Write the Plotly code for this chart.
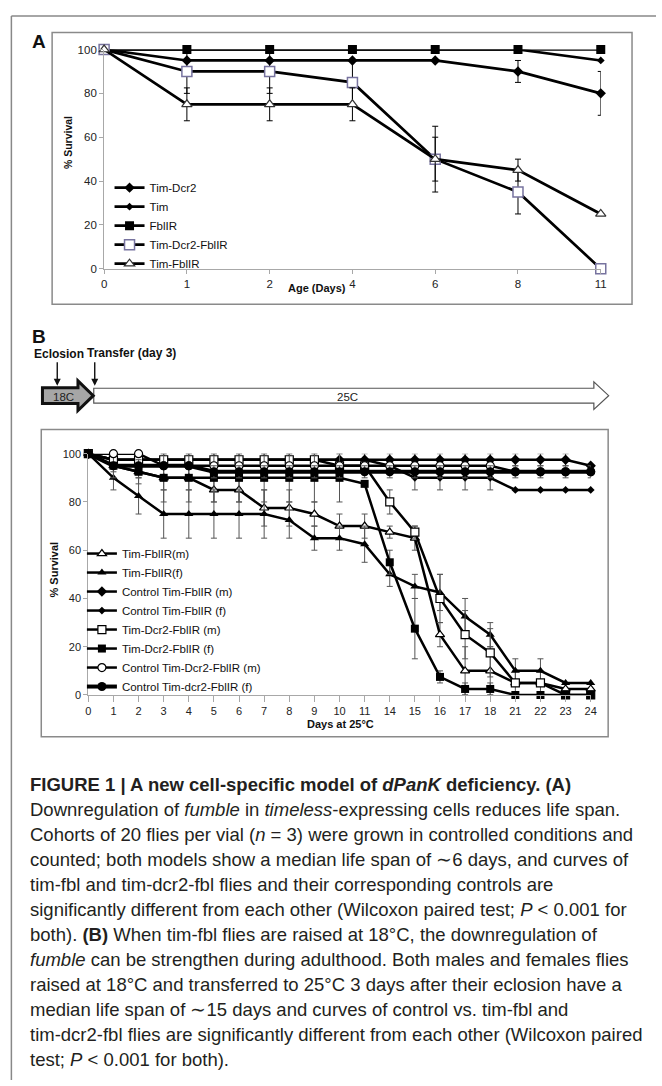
import plotly.graph_objects as go

W, H = 662, 1086

# ---------------- Panel A data ----------------
a_days = ["0", "1", "2", "4", "6", "8", "11"]
a_yticks = [0, 20, 40, 60, 80, 100]
a_tim_dcr2 = [100, 95, 95, 95, 95, 90, 80]
a_tim_dcr2_err = [0, 0, 0, 0, 0, 5, 10]
a_tim = [100, 100, 100, 100, 100, 100, 95]
a_fbl = [100, 100, 100, 100, 100, 100, 100]
a_tim_dcr2_fbl = [100, 90, 90, 85, 50, 35, 0]
a_tim_dcr2_fbl_err = [0, 10, 10, 10, 10, 10, 0]
a_tim_fbl = [100, 75, 75, 75, 50, 45, 25]
a_tim_fbl_err = [0, 7.5, 7.5, 7.5, 15, 5, 0]

# ---------------- Panel B data ----------------
b_days = ["0", "1", "2", "3", "4", "5", "6", "7", "8", "9", "10", "11",
          "14", "15", "16", "17", "18", "21", "22", "23", "24"]
b_yticks = [0, 20, 40, 60, 80, 100]
b_tim_fbl_m = [100, 95, 92.5, 90, 90, 85, 85, 77.5, 77.5, 75, 70, 70,
               67.5, 65, 25, 10, 10, 5, 5, 2.5, 2.5]
b_tim_fbl_m_err = [0, 2.5, 2.5, 5, 5, 5, 5, 7.5, 7.5, 5, 5, 5,
                   2.5, 5, 5, 10, 10, 5, 5, 2.5, 2.5]
b_tim_fbl_f = [100, 90, 82.5, 75, 75, 75, 75, 75, 72.5, 65, 65, 62.5,
               50, 45, 42.5, 32.5, 25, 10, 10, 5, 5]
b_tim_fbl_f_err = [0, 5, 7.5, 10, 10, 10, 10, 10, 7.5, 5, 5, 7.5,
                   5, 5, 7.5, 7.5, 5, 5, 5, 0, 0]
b_ctrl_fbl_m = [100, 97.5, 97.5, 97.5, 97.5, 97.5, 97.5, 97.5, 97.5, 97.5, 97.5, 97.5,
                97.5, 97.5, 97.5, 97.5, 97.5, 97.5, 97.5, 97.5, 95]
b_ctrl_fbl_m_err = [0, 2.5, 2.5, 2.5, 2.5, 2.5, 2.5, 2.5, 2.5, 2.5, 2.5, 2.5,
                    2.5, 2.5, 2.5, 2.5, 2.5, 2.5, 2.5, 2.5, 0]
b_ctrl_fbl_f = [100, 97.5, 97.5, 97.5, 97.5, 97.5, 97.5, 97.5, 97.5, 97.5, 97.5, 97.5,
                95, 90, 90, 90, 90, 85, 85, 85, 85]
b_ctrl_fbl_f_err = [0, 0, 0, 0, 0, 0, 0, 0, 0, 0, 0, 0,
                    0, 5, 5, 5, 5, 0, 0, 0, 0]
b_dcr2_fbl_m = [100, 97.5, 97.5, 97.5, 97.5, 97.5, 97.5, 97.5, 97.5, 97.5, 95, 95,
                80, 67.5, 40, 25, 17.5, 5, 5, 0, 0]
b_dcr2_fbl_m_err = [0, 0, 0, 0, 0, 0, 0, 0, 0, 0, 0, 0,
                    5, 2.5, 10, 10, 10, 0, 0, 0, 0]
b_dcr2_fbl_f = [100, 95, 92.5, 90, 90, 90, 90, 90, 90, 90, 90, 87.5,
                55, 27.5, 7.5, 2.5, 2.5, 0, 0, 0, 0]
b_dcr2_fbl_f_err = [0, 5, 5, 10, 10, 10, 10, 10, 10, 10, 10, 0,
                    5, 12.5, 2.5, 2.5, 2.5, 0, 0, 0, 0]
b_ctrl_dcr2_m = [100, 100, 100, 95, 95, 95, 95, 95, 95, 95, 95, 95,
                 95, 95, 95, 95, 95, 92.5, 92.5, 92.5, 92.5]
b_ctrl_dcr2_f = [100, 95, 95, 95, 95, 92.5, 92.5, 92.5, 92.5, 92.5, 92.5, 92.5,
                 92.5, 92.5, 92.5, 92.5, 92.5, 92.5, 92.5, 92.5, 92.5]
b_ctrl_dcr2_f_err = [0, 0, 0, 0, 0, 2.5, 2.5, 2.5, 2.5, 2.5, 2.5, 2.5,
                     2.5, 2.5, 2.5, 2.5, 2.5, 2.5, 2.5, 2.5, 2.5]

caption_lines = [
    "<b>FIGURE 1 | A new cell-specific model of <i>dPanK</i> deficiency. (A)</b>",
    "Downregulation of <i>fumble</i> in <i>timeless</i>-expressing cells reduces life span.",
    "Cohorts of 20 flies per vial (<i>n</i> = 3) were grown in controlled conditions and",
    "counted; both models show a median life span of ∼6 days, and curves of",
    "tim-fbl and tim-dcr2-fbl flies and their corresponding controls are",
    "significantly different from each other (Wilcoxon paired test; <i>P</i> &lt; 0.001 for",
    "both). <b>(B)</b> When tim-fbl flies are raised at 18°C, the downregulation of",
    "<i>fumble</i> can be strengthen during adulthood. Both males and females flies",
    "raised at 18°C and transferred to 25°C 3 days after their eclosion have a",
    "median life span of ∼15 days and curves of control vs. tim-fbl and",
    "tim-dcr2-fbl flies are significantly different from each other (Wilcoxon paired",
    "test; <i>P</i> &lt; 0.001 for both).",
]

FONT = "Liberation Sans, Arial, sans-serif"


def px(x):
    return x / W


def py(y):
    return 1 - y / H


def errs(v):
    return [e if e else None for e in v]


fig = go.Figure()

# ---------- Panel A traces ----------
a_specs = [
    ("Tim-Dcr2", a_tim_dcr2, a_tim_dcr2_err, dict(symbol="diamond", size=8, color="black")),
    ("Tim", a_tim, None, dict(symbol="diamond", size=6, color="black")),
    ("FblIR", a_fbl, None, dict(symbol="square", size=9, color="black")),
    ("Tim-Dcr2-FblIR", a_tim_dcr2_fbl, a_tim_dcr2_fbl_err,
     dict(symbol="square", size=10, color="white", line=dict(color="#77739f", width=1.5))),
    ("Tim-FblIR", a_tim_fbl, a_tim_fbl_err,
     dict(symbol="triangle-up", size=9, color="white", line=dict(color="#333333", width=1.2))),
]
for name, ys, er, mk in a_specs:
    fig.add_trace(go.Scatter(
        x=a_days, y=ys, name=name, mode="lines+markers",
        line=dict(color="black", width=2.7), marker=mk,
        error_y=(dict(type="data", array=errs(er), visible=True, color="black",
                      thickness=1, width=3) if er else None),
        xaxis="x", yaxis="y", legend="legend", cliponaxis=False,
    ))

# ---------- Panel B traces ----------
b_specs = [
    ("Tim-FblIR(m)", b_tim_fbl_m, b_tim_fbl_m_err, 2.5,
     dict(symbol="triangle-up", size=8, color="white", line=dict(color="black", width=1.2))),
    ("Tim-FblIR(f)", b_tim_fbl_f, b_tim_fbl_f_err, 2.5,
     dict(symbol="triangle-up", size=8, color="black")),
    ("Control Tim-FblIR (m)", b_ctrl_fbl_m, b_ctrl_fbl_m_err, 2.5,
     dict(symbol="diamond", size=8, color="black")),
    ("Control Tim-FblIR (f)", b_ctrl_fbl_f, b_ctrl_fbl_f_err, 2.5,
     dict(symbol="diamond", size=6, color="black")),
    ("Tim-Dcr2-FblIR (m)", b_dcr2_fbl_m, b_dcr2_fbl_m_err, 2.5,
     dict(symbol="square", size=8, color="white", line=dict(color="black", width=1.2))),
    ("Tim-Dcr2-FblIR (f)", b_dcr2_fbl_f, b_dcr2_fbl_f_err, 2.5,
     dict(symbol="square", size=8, color="black")),
    ("Control Tim-Dcr2-FblIR (m)", b_ctrl_dcr2_m, None, 2.5,
     dict(symbol="circle", size=8, color="white", line=dict(color="black", width=1.2))),
    ("Control Tim-dcr2-FblIR (f)", b_ctrl_dcr2_f, b_ctrl_dcr2_f_err, 4,
     dict(symbol="circle", size=9, color="black")),
]
for name, ys, er, lw, mk in b_specs:
    fig.add_trace(go.Scatter(
        x=b_days, y=ys, name=name, mode="lines+markers",
        line=dict(color="black", width=lw), marker=mk,
        error_y=(dict(type="data", array=errs(er), visible=True, color="#555555",
                      thickness=1, width=3) if er else None),
        xaxis="x2", yaxis="y2", legend="legend2", cliponaxis=False,
    ))

axis_common = dict(showgrid=False, zeroline=False, showline=True, linecolor="#a8a8a8",
                   linewidth=1, ticks="outside", tickcolor="#a8a8a8", ticklen=4,
                   tickfont=dict(family=FONT, size=11.5, color="#222"))

fig.update_layout(
    width=W, height=H, margin=dict(l=0, r=0, t=0, b=0),
    paper_bgcolor="white", plot_bgcolor="rgba(0,0,0,0)",
    showlegend=True,
    xaxis=dict(domain=[px(102.5), px(606)], type="category", categoryorder="array",
               categoryarray=a_days, range=[0, 6], anchor="y", **axis_common),
    yaxis=dict(domain=[py(265.7), py(44)], range=[0, 100], tickvals=a_yticks,
               anchor="x", ticksuffix="  ", **axis_common),
    xaxis2=dict(domain=[px(86.5), px(595.8)], type="category", categoryorder="array",
                categoryarray=b_days, range=[0, 20], anchor="y2",
                **{**axis_common, "tickfont": dict(family=FONT, size=11, color="#222"), "ticklen": 6}),
    yaxis2=dict(domain=[py(696.7), py(452.7)], range=[0, 100], tickvals=b_yticks,
                anchor="x2", ticksuffix="  ",
                **{**axis_common, "tickfont": dict(family=FONT, size=11, color="#222")}),
    legend=dict(x=px(108), y=py(169), xanchor="left", yanchor="top",
                bgcolor="rgba(0,0,0,0)", borderwidth=0,
                font=dict(family=FONT, size=11.5, color="#111")),
    legend2=dict(x=px(80), y=py(539), xanchor="left", yanchor="top",
                 bgcolor="rgba(0,0,0,0)", borderwidth=0,
                 font=dict(family=FONT, size=11.5, color="#111")),
)

# ---------- shapes ----------
shapes = []
shapes.append(dict(type="line", xref="paper", yref="paper", x0=px(8.5), x1=px(662),
                   y0=py(10), y1=py(10), line=dict(color="#888", width=1.5)))
shapes.append(dict(type="line", xref="paper", yref="paper", x0=px(8.5), x1=px(8.5),
                   y0=py(10), y1=py(1086), line=dict(color="#888", width=1.5)))
shapes.append(dict(type="rect", xref="paper", yref="paper", x0=px(49.8), x1=px(637.7),
                   y0=py(26.7), y1=py(301.7), line=dict(color="#8a8a8a", width=1.5), layer="below"))
shapes.append(dict(type="rect", xref="paper", yref="paper", x0=px(38.8), x1=px(613.5),
                   y0=py(428.3), y1=py(739), line=dict(color="#8a8a8a", width=1.5), layer="below"))


def path(points):
    return "M " + " L ".join(f"{px(x):.5f},{py(y):.5f}" for x, y in points) + " Z"


shapes.append(dict(type="path", xref="paper", yref="paper",
                   path=path([(92, 386.5), (599, 386.5), (599, 380), (614, 394),
                              (599, 408), (599, 401.5), (92, 401.5)]),
                   fillcolor="white", line=dict(color="#555", width=1.2)))
shapes.append(dict(type="path", xref="paper", yref="paper",
                   path=path([(40, 386), (76, 386), (76, 379), (91.5, 394),
                              (76, 409), (76, 402), (40, 402)]),
                   fillcolor="#a6a6a6", line=dict(color="#111", width=3)))

annotations = []


def ann(text, x, y, size, bold=False, xanchor="center", angle=0, color="#111"):
    annotations.append(dict(text=(f"<b>{text}</b>" if bold else text), x=px(x), y=py(y),
                            xref="paper", yref="paper", showarrow=False, xanchor=xanchor,
                            yanchor="middle", textangle=angle,
                            font=dict(family=FONT, size=size, color=color)))


ann("A", 37, 36, 19, bold=True)
ann("B", 36, 334, 19, bold=True)
ann("% Survival", 66.5, 138, 10.5, bold=True, angle=-90)
ann("Age (Days)", 318, 285, 11, bold=True)
ann("% Survival", 51.5, 570, 11, bold=True, angle=-90)
ann("Days at 25°C", 342.6, 726, 11, bold=True)
ann("Eclosion", 29.5, 351.5, 12, bold=True, xanchor="left")
ann("Transfer (day 3)", 83, 351, 12, bold=True, xanchor="left")
ann("18C", 61, 395, 11.5, color="#222")
ann("25C", 349, 395, 11.5, color="#222")

for ax_x in (55, 93):
    annotations.append(dict(text="", x=px(ax_x), y=py(384), xref="paper", yref="paper",
                            showarrow=True, ax=0, ay=-25, axref="pixel", ayref="pixel",
                            arrowhead=2, arrowsize=1, arrowwidth=1.4, arrowcolor="#111"))

cap_y0, cap_dy = 786.7, 25.3
for i, line in enumerate(caption_lines):
    annotations.append(dict(text=line, x=px(25), y=py(cap_y0 + i * cap_dy), xref="paper",
                            yref="paper", showarrow=False, xanchor="left", yanchor="middle",
                            font=dict(family=FONT, size=18.5, color="#231f20")))

fig.update_layout(shapes=shapes, annotations=annotations)

fig.write_html("out.html", config={"displayModeBar": False},
               post_script="document.body.style.margin='0';document.body.style.overflow='hidden';")
